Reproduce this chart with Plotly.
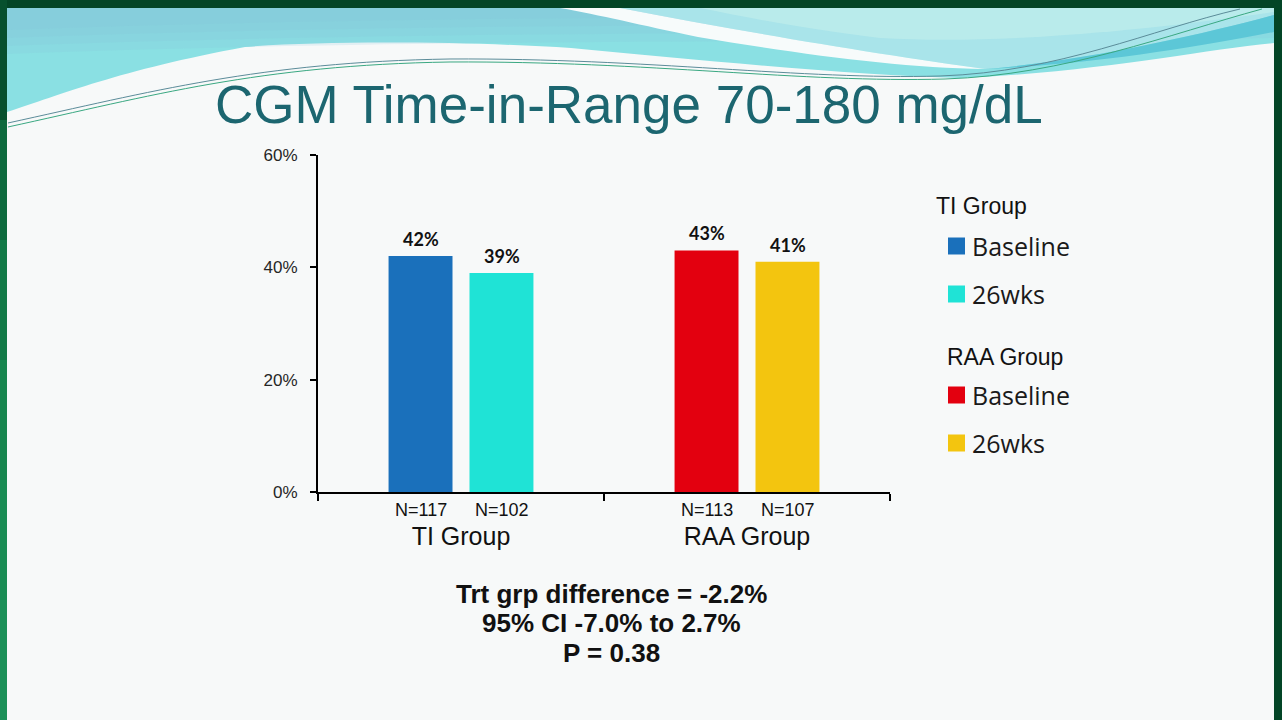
import plotly.graph_objects as go

# ============================================================================
# Data
# ============================================================================

groups = ["TI Group", "RAA Group"]
baseline_tir = [42, 43]
wk26_tir = [39, 41]
baseline_n = [117, 113]
wk26_n = [102, 107]
baseline_colors = ["#1a70bb", "#e3000f"]
wk26_colors = ["#1fe3d6", "#f3c50f"]
y_ticks = [0, 20, 40, 60]
y_tick_labels = ["0%", "20%", "40%", "60%"]

title_text = "CGM Time-in-Range 70-180 mg/dL"
stats_lines = ["Trt grp difference = -2.2%", "95% CI -7.0% to 2.7%", "P = 0.38"]

# ============================================================================
# Page geometry helpers (slide is 1282x720, plot area in pixels)
# ============================================================================

W, H = 1282, 720
PL, PR, PT, PB = 318, 890, 155, 492


def px(x, y):
    """pixel position on the slide -> paper coordinates"""
    return (x - PL) / (PR - PL), (PB - y) / (PB - PT)


def path(cmds):
    out = []
    for c, pts in cmds:
        coords = " ".join("%.4f,%.4f" % px(x, y) for x, y in pts)
        out.append(c + " " + coords if coords else c)
    return " ".join(out)


def rect(x0, y0, x1, y1, color, opacity=1):
    a, b = px(x0, y0)
    c, d = px(x1, y1)
    return dict(type="rect", xref="paper", yref="paper", x0=a, y0=b, x1=c, y1=d,
                fillcolor=color, opacity=opacity, line=dict(width=0), layer="below")


def fill_path(cmds, color, opacity=1):
    return dict(type="path", xref="paper", yref="paper", path=path(cmds),
                fillcolor=color, opacity=opacity, line=dict(width=0), layer="below")


def line_path(cmds, color, width=1):
    return dict(type="path", xref="paper", yref="paper", path=path(cmds),
                line=dict(color=color, width=width), layer="below")


# ============================================================================
# Bars
# ============================================================================

fig = go.Figure()

for i, grp in enumerate(groups):
    fig.add_trace(go.Bar(
        x=[grp], y=[baseline_tir[i]], name="Baseline", offsetgroup="baseline",
        marker=dict(color=baseline_colors[i], line=dict(width=0)), showlegend=False,
    ))
    fig.add_trace(go.Bar(
        x=[grp], y=[wk26_tir[i]], name="26wks", offsetgroup="wk26",
        marker=dict(color=wk26_colors[i], line=dict(width=0)), showlegend=False,
    ))

annotations = []
slot_shift = 40.5
for i, grp in enumerate(groups):
    for val, n, sh in [(baseline_tir[i], baseline_n[i], -slot_shift),
                       (wk26_tir[i], wk26_n[i], slot_shift)]:
        annotations.append(dict(x=grp, y=val, xref="x", yref="y", xshift=sh, yshift=17,
                                text="<b>%d%%</b>" % val, showarrow=False, yanchor="middle",
                                font=dict(family="Lato", size=18, color="#111111")))
        annotations.append(dict(x=grp, y=0, xref="x", yref="y", xshift=sh, yshift=-18,
                                text="N=%d" % n, showarrow=False, yanchor="middle",
                                font=dict(family="Liberation Sans", size=18, color="#111111")))

# title and statistics text
tx, ty = px(629, 104)
annotations.append(dict(x=tx, y=ty, xref="paper", yref="paper", text=title_text,
                        showarrow=False, xanchor="center", yanchor="middle",
                        font=dict(family="Liberation Sans", size=53, color="#1c6670")))
for line_text, yy in zip(stats_lines, [594, 623, 653]):
    sx, sy = px(611, yy)
    annotations.append(dict(x=sx, y=sy, xref="paper", yref="paper", text="<b>%s</b>" % line_text,
                            showarrow=False, xanchor="center", yanchor="middle",
                            font=dict(family="Liberation Sans", size=26, color="#111111")))

# ============================================================================
# Legend (drawn by hand to match the slide)
# ============================================================================

legend_rows = [
    ("title", "TI Group", None, 934, 206),
    ("item", "Baseline", baseline_colors[0], 948, 246),
    ("item", "26wks", wk26_colors[0], 948, 294),
    ("title", "RAA Group", None, 945, 357),
    ("item", "Baseline", baseline_colors[1], 948, 395),
    ("item", "26wks", wk26_colors[1], 948, 443),
]

shapes = []

for kind, label, color, lx, ly in legend_rows:
    if kind == "title":
        ax, ay = px(lx, ly)
        annotations.append(dict(x=ax, y=ay, xref="paper", yref="paper", text=label,
                                showarrow=False, xanchor="left", yanchor="middle",
                                font=dict(family="Liberation Sans", size=23, color="#111111")))
    else:
        s = rect(lx, ly - 8.5, lx + 17, ly + 8.5, color)
        s["layer"] = "above"
        shapes.append(s)
        ax, ay = px(lx + 22, ly)
        annotations.append(dict(x=ax, y=ay, xref="paper", yref="paper", text=label,
                                showarrow=False, xanchor="left", yanchor="middle",
                                font=dict(family="Open Sans", size=25, color="#1a1a1a")))

# ============================================================================
# Slide decoration (frame and header wave)
# ============================================================================

left_band = [("M", [(7, 8)]), ("L", [(1274, 8)]), ("L", [(1274, 43)]),
             ("C", [(1200, 50), (1100, 72), (960, 78)]),
             ("C", [(850, 75), (700, 60), (571, 48)]),
             ("C", [(480, 42), (330, 40), (245, 47)]),
             ("C", [(120, 70), (60, 95), (7, 112)]), ("Z", [])]

deco = [fill_path(left_band, "#8ae0e3")]
# bluish shade towards the top of the band
for k, yb in enumerate([44, 36, 28, 20]):
    deco.append(fill_path([("M", [(7, 8)]), ("L", [(1274, 8)]), ("L", [(1274, yb - 6)]),
                           ("C", [(900, yb), (500, yb - 8), (7, yb + 10)]), ("Z", [])],
                          "#86c4d8", 0.18))
deco += [
    # right light region above the white swoosh
    fill_path([("M", [(620, 8)]), ("L", [(1274, 8)]), ("L", [(1274, 15)]),
               ("C", [(1200, 35), (1080, 62), (985, 69)]),
               ("C", [(882, 55), (744, 32), (620, 8)]), ("Z", [])], "#a9e4ea"),
    fill_path([("M", [(700, 8)]), ("L", [(1274, 8)]), ("L", [(1274, 12)]),
               ("C", [(1150, 30), (1000, 45), (880, 38)]),
               ("C", [(800, 28), (750, 18), (700, 8)]), ("Z", [])], "#bdeceb", 0.8),
    # medium band
    fill_path([("M", [(1274, 15)]), ("C", [(1200, 35), (1080, 62), (985, 69)]),
               ("C", [(1100, 64), (1200, 46), (1274, 32)]), ("Z", [])], "#5cc7d7"),
    # white swoosh
    fill_path([("M", [(560, 8)]), ("L", [(620, 8)]),
               ("C", [(744, 32), (882, 55), (985, 69)]),
               ("C", [(900, 68), (800, 54), (698, 37)]),
               ("C", [(640, 25), (600, 15), (560, 8)]), ("Z", [])], "#f7fbfb"),
    line_path([("M", [(8, 123)]), ("C", [(150, 92), (260, 62), (450, 59)]),
               ("C", [(650, 58), (800, 80), (940, 76)]),
               ("C", [(1060, 72), (1150, 30), (1240, 9)])], "#5b8c99", 1),
    line_path([("M", [(8, 127)]), ("C", [(150, 96), (260, 65), (450, 62)]),
               ("C", [(650, 61), (800, 83), (945, 79)]),
               ("C", [(1065, 75), (1170, 34), (1262, 9)])], "#3aa882", 1),
    # frame
    rect(0, 0, W, 8, "#034526"),
    rect(1274, 0, W, H, "#034526"),
    rect(0, 0, 7, 120, "#07502e"),
    rect(0, 120, 7, 240, "#0d6a3d"),
    rect(0, 240, 7, 360, "#127a47"),
    rect(0, 360, 7, 480, "#16854e"),
    rect(0, 480, 7, 600, "#198c54"),
    rect(0, 600, 7, H, "#1b9058"),
]

shapes = deco + shapes

# ============================================================================
# Layout
# ============================================================================

fig.update_layout(
    width=W, height=H,
    margin=dict(l=PL, r=W - PR, t=PT, b=H - PB, pad=0),
    paper_bgcolor="#f7f9f9",
    plot_bgcolor="rgba(0,0,0,0)",
    barmode="group",
    bargap=0.434,
    bargroupgap=0.21,
    showlegend=False,
    font=dict(family="Liberation Sans", color="#111111"),
    xaxis=dict(
        type="category", categoryorder="array", categoryarray=groups,
        range=[-0.5, 1.5], showline=True, linecolor="#000000", linewidth=2,
        ticks="outside", tickson="boundaries", ticklen=7, tickwidth=2, tickcolor="#000000",
        tickfont=dict(size=25, color="#111111"), ticklabelstandoff=21,
        showgrid=False, zeroline=False, fixedrange=True,
    ),
    yaxis=dict(
        range=[0, 60], tickvals=y_ticks, ticktext=y_tick_labels,
        showline=True, linecolor="#000000", linewidth=2,
        ticks="outside", ticklen=6, tickwidth=1.5, tickcolor="#000000",
        tickfont=dict(size=17, color="#262626"), ticklabelstandoff=9,
        showgrid=False, zeroline=False, fixedrange=True,
    ),
    shapes=shapes,
    annotations=annotations,
)

# the page body has a default 8px margin; drop it so the slide fills the window
fig.write_html("out.html", config={"displayModeBar": False},
               post_script="document.body.style.margin='0';")
